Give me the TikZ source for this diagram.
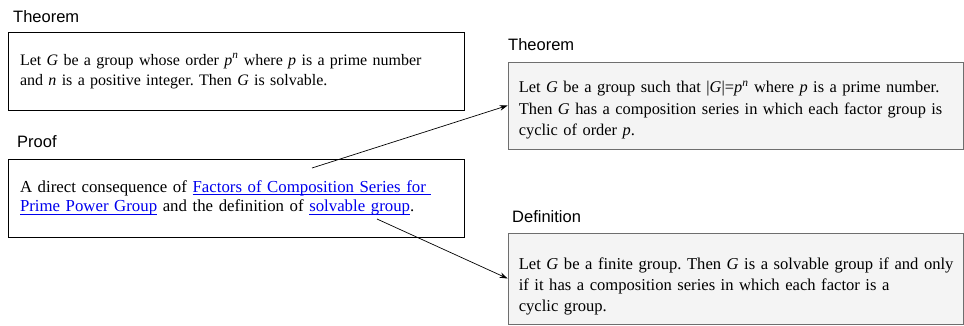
\documentclass[tikz,border=0pt]{standalone}
\usepackage{fontspec}
\setmainfont{Liberation Serif}
\newfontfamily\labelfont{Liberation Sans}
\usetikzlibrary{arrows.meta}
\definecolor{linkblue}{RGB}{0,0,238}
\definecolor{boxgray}{RGB}{244,244,244}
\definecolor{bordergray}{RGB}{110,110,110}
\newsavebox{\lnkbox}
\newcommand{\lnk}[1]{\textcolor{linkblue}{\sbox{\lnkbox}{#1}\rlap{\rule[-2.6pt]{\wd\lnkbox}{0.7pt}}\usebox{\lnkbox}}}
\newcommand{\vr}[1]{\textit{#1}}
\frenchspacing
\begin{document}
\begin{tikzpicture}[x=1pt,y=-1pt,
  whitebox/.style={draw=black,line width=0.8pt,fill=white,minimum width=456pt,inner xsep=12pt,text width=432pt,align=left},
  graybox/.style={draw=bordergray,line width=0.8pt,fill=boxgray,minimum width=455pt,inner sep=0pt},
  graytext/.style={anchor=west,inner sep=0pt,text width=442pt,align=left},
  heading/.style={anchor=west,inner sep=0pt,font=\labelfont\fontsize{16.5}{19}\selectfont},
  conn/.style={-{Stealth[length=8pt,width=5.5pt]},line width=0.7pt}]
\useasboundingbox (0,0) rectangle (964,325);
\node[heading] (h1) at (13,17) {Theorem};
\node[whitebox,minimum height=78pt,font=\fontsize{16}{20}\selectfont] (thm1) at (236,71) {Let \vr{G} be a group whose order \vr{p}\textsuperscript{\vr{n}} where \vr{p} is a prime number\\and \vr{n} is a positive integer. Then \vr{G} is solvable.};
\node[heading] (h2) at (17,142) {Proof};
\node[whitebox,minimum height=78pt,font=\fontsize{16.8}{19.5}\selectfont] (proof) at (236,198) {A direct consequence of \lnk{Factors of Composition Series for\ }\\\lnk{Prime Power Group} and the definition of \lnk{solvable group}.};
\node[heading] (h3) at (508,45) {Theorem};
\node[graybox,minimum height=87pt] (thm2) at (735.5,105.5) {};
\node[graytext,font=\fontsize{16.4}{21.5}\selectfont] (thm2text) at ([xshift=11pt,yshift=-4.5pt]thm2.west) {Let \vr{G} be a group such that |\vr{G}|=\vr{p}\textsuperscript{\vr{n}} where \vr{p} is a prime number.\\Then \vr{G} has a composition series in which each factor group is\\cyclic of order \vr{p}.};
\node[heading] (h4) at (512,217) {Definition};
\node[graybox,minimum height=91pt] (def) at (735.5,278.5) {};
\node[graytext,font=\fontsize{16.6}{21}\selectfont] (deftext) at ([xshift=11pt,yshift=-7.5pt]def.west) {Let \vr{G} be a finite group. Then \vr{G} is a solvable group if and only\\if it has a composition series in which each factor is a\\cyclic group.};
\coordinate (s1) at (312,168);
\coordinate (s2) at (377,219);
\draw[conn] (s1) -- (thm2.west);
\draw[conn] (s2) -- (def.west);
\end{tikzpicture}
\end{document}
